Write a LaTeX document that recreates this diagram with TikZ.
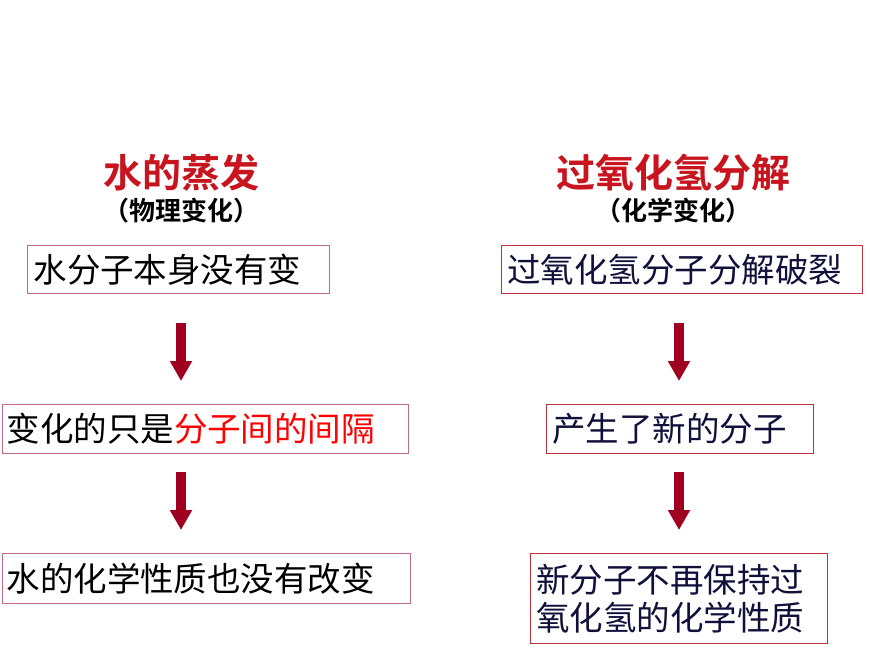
\documentclass[tikz,border=0pt]{standalone}
\usepackage{fontspec}
\newfontfamily\cjk{Noto Sans CJK SC}
\newfontfamily\cjkb{Noto Sans CJK SC Bold}
\usetikzlibrary{arrows.meta}
\definecolor{ttl}{HTML}{C8141E}
\definecolor{lbox}{HTML}{C06A88}
\definecolor{rbox}{HTML}{C03040}
\definecolor{navy}{HTML}{10103A}
\definecolor{arr}{HTML}{A00020}
\tikzset{
  box/.style={draw, line width=1pt, inner sep=0pt, anchor=north west, font=\cjk\fontsize{33.5}{36}\selectfont, align=left},
  ttlnode/.style={text=ttl, font=\cjkb\fontsize{39}{42}\selectfont},
  subnode/.style={font=\cjkb\fontsize{26}{28}\selectfont},
  dnarrow/.style={draw=arr, line width=10pt, -{Triangle[length=20pt,width=21pt]}}
}
\begin{document}
\begin{tikzpicture}[x=1pt,y=-1pt]
\useasboundingbox (0,0) rectangle (870,653);
\node[ttlnode] (t1) at (181,173) {水的蒸发};
\node[subnode] (s1) at (181,211) {（物理变化）};
\node[ttlnode] (t2) at (673,173) {过氧化氢分解};
\node[subnode] (s2) at (673,211) {（化学变化）};

\node[box, draw=lbox, minimum width=302pt, minimum height=48pt, text width=298pt] (l1) at (27,245) {\hspace*{4pt}水分子本身没有变};
\node[box, draw=lbox, minimum width=406pt, minimum height=49pt, text width=404pt] (l2) at (2,404) {\hspace*{3pt}变化的只是\textcolor{red}{分子间的间隔}};
\node[box, draw=lbox, minimum width=408pt, minimum height=50pt, text width=406pt] (l3) at (2,553) {\hspace*{3pt}水的化学性质也没有改变};

\node[box, draw=rbox, text=navy, minimum width=361pt, minimum height=48pt, text width=358pt] (r1) at (501,245) {\hspace*{4pt}过氧化氢分子分解破裂};
\node[box, draw=rbox, text=navy, minimum width=267pt, minimum height=49pt, text width=264pt] (r2) at (546,404) {\hspace*{4pt}产生了新的分子};
\node[box, draw=rbox, text=navy, minimum width=297pt, minimum height=90pt, text width=294pt, font=\cjk\fontsize{33.5}{38}\selectfont] (r3) at (530,553) {\hspace*{4pt}新分子不再保持过\\\hspace*{4pt}氧化氢的化学性质};

\coordinate (a1s) at (181,323); \coordinate (a1e) at (181,381);
\coordinate (a2s) at (181,472); \coordinate (a2e) at (181,530);
\coordinate (a3s) at (679,323); \coordinate (a3e) at (679,381);
\coordinate (a4s) at (679,472); \coordinate (a4e) at (679,530);
\draw[dnarrow] (a1s) -- (a1e);
\draw[dnarrow] (a2s) -- (a2e);
\draw[dnarrow] (a3s) -- (a3e);
\draw[dnarrow] (a4s) -- (a4e);
\end{tikzpicture}
\end{document}
